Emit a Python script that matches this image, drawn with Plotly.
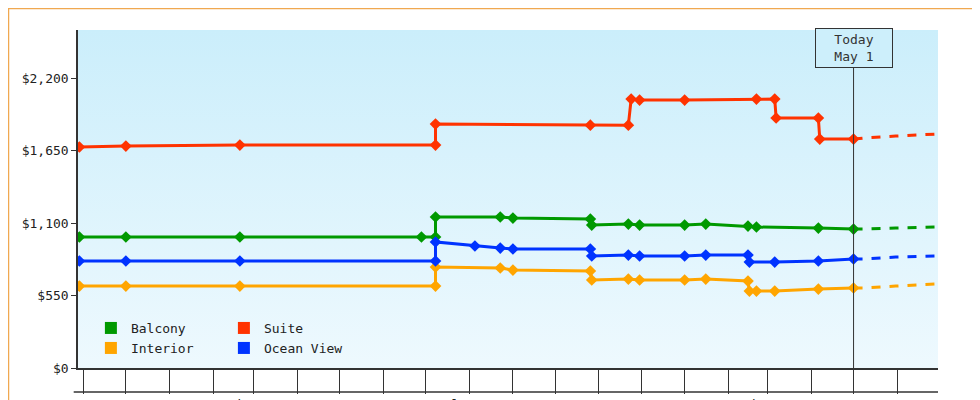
import plotly.graph_objects as go

TODAY = "2025-05-01"
Y_TICKS = [0, 550, 1100, 1650, 2200]
Y_TICKTEXT = ["$0", "$550", "$1,100", "$1,650", "$2,200"]

suite_dates = ["2023-10-29","2023-12-01","2024-02-20","2024-07-08","2024-07-08","2024-10-26","2024-11-22","2024-11-24","2024-11-30","2025-01-01","2025-02-21","2025-03-06","2025-03-07","2025-04-06","2025-04-07","2025-05-01"]
suite_vals  = [1677,1684,1692,1692,1851,1843,1843,2041,2033,2033,2041,2041,1897,1897,1737,1737]
balcony_dates = ["2023-10-29","2023-12-01","2024-02-20","2024-06-28","2024-07-08","2024-07-08","2024-08-23","2024-09-01","2024-10-26","2024-10-27","2024-11-22","2024-11-30","2025-01-01","2025-01-16","2025-02-15","2025-02-21","2025-04-06","2025-05-01"]
balcony_vals  = [994,994,994,994,994,1146,1146,1138,1130,1085,1092,1085,1085,1092,1077,1070,1062,1054]
ocean_dates = ["2023-10-29","2023-12-01","2024-02-20","2024-07-08","2024-07-08","2024-08-05","2024-08-23","2024-09-01","2024-10-26","2024-10-27","2024-11-22","2024-11-30","2025-01-01","2025-01-16","2025-02-15","2025-02-16","2025-03-06","2025-04-06","2025-05-01"]
ocean_vals  = [812,812,812,812,956,926,910,903,903,850,857,850,850,857,857,804,804,812,827]
interior_dates = ["2023-10-29","2023-12-01","2024-02-20","2024-07-08","2024-07-08","2024-08-23","2024-09-01","2024-10-26","2024-10-27","2024-11-22","2024-11-30","2025-01-01","2025-01-16","2025-02-15","2025-02-16","2025-02-21","2025-03-06","2025-04-06","2025-05-01"]
interior_vals  = [622,622,622,622,766,759,743,736,668,675,668,668,675,660,584,584,584,599,607]

fc_dates = ["2025-05-01","2025-05-08","2025-05-31","2025-06-28"]
fc_suite = [1737,1745,1760,1775]
fc_balcony = [1054,1054,1062,1070]
fc_ocean = [827,827,842,850]
fc_interior = [607,607,622,637]

series = [
    ("Balcony", "#009900", balcony_dates, balcony_vals, fc_balcony, "legend"),
    ("Suite", "#ff3300", suite_dates, suite_vals, fc_suite, "legend"),
    ("Interior", "#ffa500", interior_dates, interior_vals, fc_interior, "legend2"),
    ("Ocean View", "#0033ff", ocean_dates, ocean_vals, fc_ocean, "legend2"),
]

X0, X1 = "2023-10-28", "2025-06-30"
Y0, Y1 = 0, 2565
FONT = "DejaVu Sans Mono"

fig = go.Figure()
fig.add_trace(go.Scatter(x=[X0, X1, X1, X0, X0], y=[Y0, Y0, Y1, Y1, Y0], fill="toself",
    mode="none", hoverinfo="skip", showlegend=False,
    fillgradient=dict(type="vertical", colorscale=[[0, "#eef9fe"], [1, "#cbeefb"]])))

for name, col, d, v, fc, lg in series:
    fig.add_trace(go.Scatter(x=fc_dates, y=fc, mode="lines", showlegend=False,
        line=dict(color=col, width=3, dash="dash")))
for name, col, d, v, fc, lg in series:
    fig.add_trace(go.Scatter(x=d, y=v, mode="lines+markers", showlegend=False,
        line=dict(color=col, width=3), marker=dict(symbol="diamond", size=9, color=col)))
for name, col, d, v, fc, lg in series:
    fig.add_trace(go.Scatter(x=[None], y=[None], mode="markers", name=name, legend=lg,
        marker=dict(symbol="square", size=12, color=col)))

fig.add_shape(type="line", x0=TODAY, x1=TODAY, y0=0, y1=300/338, xref="x", yref="paper",
              line=dict(color="#333", width=1))
fig.add_annotation(x=TODAY, y=320/338, xref="x", yref="paper", text="Today<br>May 1",
    showarrow=False, bordercolor="#333", borderwidth=1, bgcolor="#cdeffb",
    borderpad=3, width=70, font=dict(family=FONT, size=13, color="#333"), yanchor="middle")
fig.add_shape(type="line", x0=-0.005, x1=1, y0=-24/338, y1=-24/338, xref="paper", yref="paper",
              line=dict(color="#333", width=1.5))
fig.add_shape(type="rect", x0=-69.5/860, x1=1+49/860, y0=-39.5/338, y1=1+21.5/338,
              xref="paper", yref="paper", line=dict(color="#f0a850", width=1.5))

leg = dict(orientation="h", xanchor="left", yanchor="middle", entrywidth=88,
           bgcolor="rgba(0,0,0,0)", font=dict(size=13), itemsizing="constant")
fig.update_layout(
    width=980, height=400, margin=dict(l=70, r=50, t=22, b=40, autoexpand=False),
    paper_bgcolor="white", plot_bgcolor="white",
    font=dict(family=FONT, size=13, color="#222"),
    showlegend=True,
    legend=dict(leg, x=0.015, y=(360-320)/338),
    legend2=dict(leg, x=0.015, y=(360-340)/338),
    xaxis=dict(type="date", range=[X0, X1], dtick="M1", tick0="2023-11-01",
               tickformat="%b", ticklabelmode="period", ticks="outside", ticklen=24,
               tickcolor="#333", showgrid=False, showline=True, linecolor="#333",
               linewidth=1.5, zeroline=False, automargin=False),
    yaxis=dict(range=[Y0, Y1], tickvals=Y_TICKS, ticktext=Y_TICKTEXT,
               ticks="outside", ticklen=5, tickcolor="#333", showgrid=False,
               showline=True, linecolor="#333", linewidth=1.5, zeroline=False,
               automargin=False),
)
fig.write_html("out.html")
